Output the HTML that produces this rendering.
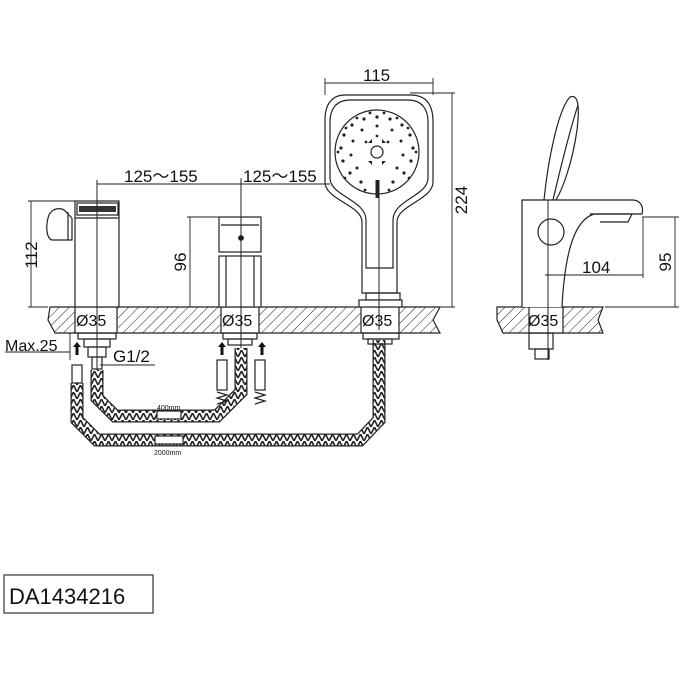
<!DOCTYPE html>
<html><head><meta charset="utf-8"><style>
html,body{margin:0;padding:0;background:#fff}
svg{display:block}
text{font-family:"Liberation Sans",sans-serif;fill:#111}
</style></head><body>
<svg width="684" height="684" viewBox="0 0 684 684" xmlns="http://www.w3.org/2000/svg">
<defs>
<pattern id="h" width="7" height="7" patternUnits="userSpaceOnUse" patternTransform="rotate(45)">
<rect width="7" height="7" fill="#fff"/><line x1="0" y1="0" x2="0" y2="7" stroke="#222" stroke-width="1"/>
</pattern>
<pattern id="hz" width="7" height="7" patternUnits="userSpaceOnUse">
<rect width="7" height="7" fill="#fff"/><path d="M0,7 L3.5,0 L7,7" fill="none" stroke="#222" stroke-width="1.6"/>
</pattern>
</defs>
<g fill="none" stroke="#222" stroke-width="1.2">
<path d="M50,307 H440 L433,320 L440,333 H55 L48,320 Z" fill="url(#h)"/>
<rect x="75" y="307" width="42" height="26" fill="#fff"/>
<rect x="221" y="307" width="38" height="26" fill="#fff"/>
<rect x="361" y="307" width="38" height="26" fill="#fff"/>
<path d="M497,307 H603 L598,320 L603,333 H503 L497,320 Z" fill="url(#h)"/>
<rect x="529" y="307" width="34" height="26" fill="#fff"/>
<!-- hoses -->
<path d="M77,383 V420 L97,440 H360 L379,420 V340" stroke="#222" stroke-width="13"/>
<path d="M77,383 V420 L97,440 H360 L379,420 V340" stroke="url(#hz)" stroke-width="10.5"/>
<path d="M97,370 V398 L115,416 H217 L241,392 V348" stroke="#222" stroke-width="13"/>
<path d="M97,370 V398 L115,416 H217 L241,392 V348" stroke="url(#hz)" stroke-width="10.5"/>
<rect x="157" y="411" width="24" height="8" fill="#fff"/>
<rect x="155" y="436" width="28" height="8" fill="#fff"/>
<!-- left unit -->
<rect x="75" y="201" width="44" height="106" fill="#fff"/>
<rect x="77" y="203" width="41" height="12" fill="#fff"/>
<path d="M79,206 H116 V212 H79 Z" fill="#333" stroke="none"/>
<path d="M75,218 H119"/>
<path d="M72,218 V240 H52 C46,238 46,226 48,218 C50,208 62,206 66,212 L72,218"/>
<path d="M68,212 V240"/>
<rect x="78" y="333" width="38" height="6"/><rect x="84" y="339" width="26" height="8"/>
<rect x="88" y="347" width="18" height="10"/><rect x="92" y="357" width="10" height="12"/>
<!-- fittings -->
<rect x="72" y="365" width="10" height="18" fill="#fff"/>
<rect x="217" y="360" width="10" height="30" fill="#fff"/>
<rect x="255" y="360" width="10" height="30" fill="#fff"/>
<path d="M217,392 l10,3 l-10,3 l10,3 l-10,3 M255,392 l10,3 l-10,3 l10,3 l-10,3"/>
<!-- centre unit -->
<rect x="219" y="217" width="42" height="35" fill="#fff"/>
<path d="M221,225 H259"/>
<rect x="219" y="256" width="42" height="51" fill="#fff"/>
<path d="M226,256 V307 M254,256 V307"/>
<circle cx="241" cy="238" r="2.3" fill="#111"/>
<rect x="223" y="333" width="34" height="6"/><rect x="228" y="339" width="24" height="6"/>
<!-- handshower -->
<path d="M345,95 H410 C426,95 433,104 433,122 V182 C433,200 397,205 397,222 V293 H362 V222 C362,205 325,200 325,182 V120 C325,103 333,95 345,95 Z" fill="#fff"/>
<path d="M350,100 H408 C421,100 428,108 428,122 V178 C428,196 393,200 393,220 V268 H366 V220 C366,200 330,196 330,178 V122 C330,108 337,100 350,100 Z"/>
<circle cx="377" cy="152" r="42"/>
<circle cx="377" cy="152" r="6"/>
<path d="M366,293 H400 V300 H366 Z"/>
<rect x="359" y="300" width="43" height="7" fill="#fff"/>
<rect x="363" y="333" width="36" height="6"/><rect x="368" y="339" width="24" height="5"/>
<!-- side view -->
<path d="M522,307 V200 H632 C640,200 644,206 642,214 H594 C575,220 565,250 562,307" fill="#fff"/>
<path d="M590,214 L632,214 L628,222 L600,222"/>
<circle cx="551" cy="232" r="13" fill="#fff"/>
<path d="M544,200 C548,160 558,110 570,97 C578,94 580,105 577,130 C572,165 562,190 556,200"/>
<path d="M553,200 C560,170 570,130 578,105"/>
<rect x="529" y="333" width="24" height="16"/><rect x="535" y="349" width="14" height="10"/>
</g>
<g fill="#111">
<path d="M77,342 l-4,5 h2.5 v8 h3 v-8 h2.5 z M222,342 l-4,5 h2.5 v8 h3 v-8 h2.5 z M262,342 l-4,5 h2.5 v8 h3 v-8 h2.5 z"/>
</g>
<g fill="#222">
<circle cx="377" cy="117" r="1.6"/><circle cx="390" cy="119" r="1.6"/><circle cx="402" cy="125" r="1.6"/><circle cx="410" cy="135" r="1.6"/><circle cx="413" cy="148" r="1.6"/><circle cx="411" cy="161" r="1.6"/><circle cx="404" cy="173" r="1.6"/><circle cx="393" cy="182" r="1.6"/><circle cx="361" cy="182" r="1.6"/><circle cx="350" cy="173" r="1.6"/><circle cx="343" cy="161" r="1.6"/><circle cx="341" cy="148" r="1.6"/><circle cx="344" cy="135" r="1.6"/><circle cx="352" cy="125" r="1.6"/><circle cx="364" cy="119" r="1.6"/>
<circle cx="377" cy="126" r="1.5"/><circle cx="392" cy="130" r="1.5"/><circle cx="401" cy="141" r="1.5"/><circle cx="403" cy="155" r="1.5"/><circle cx="397" cy="168" r="1.5"/><circle cx="357" cy="168" r="1.5"/><circle cx="351" cy="155" r="1.5"/><circle cx="353" cy="141" r="1.5"/><circle cx="362" cy="130" r="1.5"/>
<circle cx="370" cy="113" r="1.4"/><circle cx="384" cy="113" r="1.4"/><circle cx="397" cy="118" r="1.4"/><circle cx="357" cy="118" r="1.4"/><circle cx="346" cy="128" r="1.4"/><circle cx="408" cy="128" r="1.4"/><circle cx="338" cy="152" r="1.4"/><circle cx="416" cy="152" r="1.4"/><circle cx="345" cy="178" r="1.4"/><circle cx="409" cy="178" r="1.4"/>
<circle cx="365" cy="190" r="1.4"/><circle cx="389" cy="190" r="1.4"/><circle cx="377" cy="136" r="1.4"/><circle cx="366" cy="142" r="1.4"/><circle cx="388" cy="142" r="1.4"/>
<path d="M368,143 l4,0 l0,-4 z M386,143 l-4,0 l0,-4 z M368,161 l4,0 l0,4 z M386,161 l-4,0 l0,4 z"/>
<rect x="375.5" y="180" width="3" height="18"/>
</g>
<g stroke="#222" stroke-width="1">
<line x1="97" y1="180" x2="97" y2="370"/>
<line x1="241" y1="180" x2="241" y2="348"/>
<line x1="379" y1="180" x2="379" y2="330"/>
<line x1="548" y1="200" x2="548" y2="360"/>
</g>
<g stroke="#222" stroke-width="0.9" fill="none">
<path d="M97,184 H330 M241,178 V190"/>
<path d="M31,201 V307 M28,201 H75 M28,307 H48"/>
<path d="M190,217 V307 M187,217 H219"/>
<path d="M325,83 H433 M325,78 V95 M433,78 V95"/>
<path d="M452,93 V307 M410,93 H455 M440,307 H455"/>
<path d="M675,217 V307 M642,217 H679 M605,307 H679"/>
<path d="M545,275 H643 M643,217 V278"/>
<path d="M5,352 H70 V343 M70,333 V360"/>
<path d="M100,365 H155"/>
</g>
<g font-size="17">
<text x="124" y="182">125～155</text>
<text x="243" y="182">125～155</text>
<text x="363" y="81">115</text>
<text x="582" y="273">104</text>
<text x="76" y="326" font-size="16">Ø35</text>
<text x="222" y="326" font-size="16">Ø35</text>
<text x="362" y="326" font-size="16">Ø35</text>
<text x="528" y="326" font-size="16">Ø35</text>
<text x="5" y="351" font-size="16">Max.25</text>
<text x="113" y="362" font-size="17">G1/2</text>
<text transform="translate(37,255) rotate(-90)" text-anchor="middle">112</text>
<text transform="translate(186,262) rotate(-90)" text-anchor="middle">96</text>
<text transform="translate(467,200) rotate(-90)" text-anchor="middle">224</text>
<text transform="translate(671,262) rotate(-90)" text-anchor="middle">95</text>
</g>
<text x="157" y="410" font-size="7">400mm</text>
<text x="154" y="455" font-size="7">2000mm</text>
<rect x="4" y="575" width="149" height="38" fill="none" stroke="#333" stroke-width="1.2"/>
<text x="9" y="604" font-size="22">DA1434216</text>
</svg>
</body></html>
